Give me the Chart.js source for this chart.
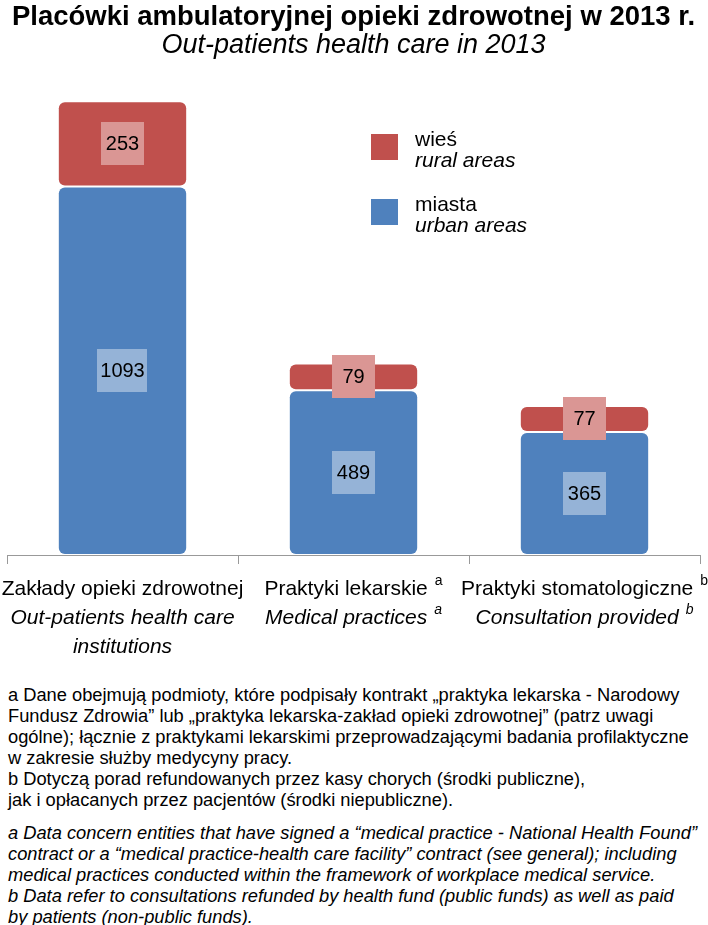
<!DOCTYPE html>
<html>
<head>
<meta charset="utf-8">
<script src="https://cdn.jsdelivr.net/npm/chart.js@4.4.0/dist/chart.umd.min.js"></script>
<style>
    body { margin: 0; background: #fff; font-family: "Liberation Sans", Arial, sans-serif; }
    #wrap { position: relative; width: 708px; height: 925px; overflow: hidden; }
    #chart_box { position: absolute; left: 0; top: 0; width: 708px; height: 680px; }
    .notes { position: absolute; left: 8px; width: 700px; font-size: 18.3px; line-height: 21px; color: #000; white-space: nowrap; }
    #notes_pl { top: 684px; }
    #notes_en { top: 822px; font-style: italic; }
</style>
</head>
<body>
<div id="wrap">
    <div id="chart_box"><canvas id="visualization_div" width="708" height="680"></canvas></div>
    <div class="notes" id="notes_pl">
        a Dane obejmują podmioty, które podpisały kontrakt „praktyka lekarska - Narodowy<br>
        Fundusz Zdrowia” lub „praktyka lekarska-zakład opieki zdrowotnej” (patrz uwagi<br>
        ogólne); łącznie z praktykami lekarskimi przeprowadzającymi badania profilaktyczne<br>
        w zakresie służby medycyny pracy.<br>
        b Dotyczą porad refundowanych przez kasy chorych (środki publiczne),<br>
        jak i opłacanych przez pacjentów (środki niepubliczne).
    </div>
    <div class="notes" id="notes_en">
        a Data concern entities that have signed a “medical practice - National Health Found”<br>
        contract or a “medical practice-health care facility” contract (see general); including<br>
        medical practices conducted within the framework of workplace medical service.<br>
        b Data refer to consultations refunded by health fund (public funds) as well as paid<br>
        by patients (non-public funds).
    </div>
</div>
<script>
const categories_pl = ['Zakłady opieki zdrowotnej', 'Praktyki lekarskie', 'Praktyki stomatologiczne'];
const categories_en = [['Out-patients health care', 'institutions'], ['Medical practices'], ['Consultation provided']];
const category_notes = ['', 'a', 'b'];
const urban_values = [1093, 489, 365];
const rural_values = [253, 79, 77];
const urban_label = ['miasta', 'urban areas'];
const rural_label = ['wieś', 'rural areas'];

const FONT = '"Liberation Sans", Arial, sans-serif';

const value_boxes = {
    id: 'value_boxes',
    afterDatasetsDraw: (chart) => {
        const ctx = chart.ctx;
        ctx.save();
        ctx.font = '20px ' + FONT;
        ctx.textAlign = 'center';
        ctx.textBaseline = 'middle';
        chart.data.datasets.forEach(function (ds, di) {
            chart.getDatasetMeta(di).data.forEach(function (bar, i) {
                const p = bar.getProps(['x', 'y', 'base'], true);
                const cy = (p.y + p.base) / 2;
                const txt = String(ds.data[i]);
                const w = Math.max(43, ctx.measureText(txt).width + 6);
                ctx.fillStyle = ds.box_color;
                ctx.fillRect(Math.round(p.x - w / 2), Math.round(cy - 21.5), Math.round(w), 43);
                ctx.fillStyle = '#000';
                ctx.fillText(txt, p.x, cy + 1);
            });
        });
        ctx.restore();
    }
};

const side_legend = {
    id: 'side_legend',
    afterDraw: (chart) => {
        const ctx = chart.ctx;
        ctx.save();
        const items = chart.data.datasets.slice().reverse();
        items.forEach(function (ds, k) {
            const top = 134 + k * 65;
            ctx.fillStyle = ds.backgroundColor;
            ctx.fillRect(371, top, 27, 26);
            ctx.fillStyle = '#000';
            ctx.textAlign = 'left';
            ctx.textBaseline = 'alphabetic';
            ctx.font = '21px ' + FONT;
            ctx.fillText(ds.legend_lines[0], 415, top + 12);
            ctx.font = 'italic 21px ' + FONT;
            ctx.fillText(ds.legend_lines[1], 415, top + 33);
        });
        ctx.restore();
    }
};

function draw_line(ctx, text, note, x, y, italic) {
    const style = italic ? 'italic ' : '';
    ctx.font = style + '21px ' + FONT;
    const w = ctx.measureText(text).width;
    let sw = 0;
    if (note) {
        ctx.font = style + '14px ' + FONT;
        sw = ctx.measureText(note).width + 7;
    }
    const start = x - (w + sw) / 2;
    ctx.font = style + '21px ' + FONT;
    ctx.fillText(text, start, y);
    if (note) {
        ctx.font = style + '14px ' + FONT;
        ctx.fillText(note, start + w + 7, y - 10);
    }
}

const category_labels = {
    id: 'category_labels',
    afterDraw: (chart) => {
        const ctx = chart.ctx;
        const xs = chart.scales.x;
        const base = chart.chartArea.bottom;
        ctx.save();
        ctx.fillStyle = '#000';
        ctx.textAlign = 'left';
        ctx.textBaseline = 'alphabetic';
        categories_pl.forEach(function (name, i) {
            const x = xs.getPixelForValue(i);
            draw_line(ctx, name, category_notes[i], x, base + 40, false);
            categories_en[i].forEach(function (line, j) {
                const note = j === 0 ? category_notes[i] : '';
                draw_line(ctx, line, note, x, base + 69 + j * 29, true);
            });
        });
        ctx.restore();
    }
};

const config = {
    type: 'bar',
    data: {
        labels: categories_pl,
        datasets: [{
            label: 'miasta',
            data: urban_values,
            backgroundColor: '#4F81BD',
            box_color: '#95B3D7',
            legend_lines: urban_label,
            borderColor: '#ffffff',
            borderWidth: 1,
            borderSkipped: false,
            borderRadius: {topLeft: 7, topRight: 7, bottomLeft: 7, bottomRight: 7}
        }, {
            label: 'wieś',
            data: rural_values,
            backgroundColor: '#C0504D',
            box_color: '#DA9694',
            legend_lines: rural_label,
            borderColor: '#ffffff',
            borderWidth: 1,
            borderSkipped: false,
            borderRadius: {topLeft: 7, topRight: 7, bottomLeft: 7, bottomRight: 7}
        }]
    },
    options: {
        animation: false,
        responsive: false,
        layout: {padding: {left: 7, right: 8, top: 0, bottom: 0}},
        datasets: {bar: {categoryPercentage: 1, barPercentage: 0.56}},
        plugins: {
            legend: {display: false},
            tooltip: {enabled: false},
            title: {
                display: true,
                text: 'Placówki ambulatoryjnej opieki zdrowotnej w 2013 r.',
                color: '#000',
                font: {family: FONT, size: 27.5, weight: 'bold', lineHeight: 1.0},
                padding: {top: 4, bottom: 0}
            },
            subtitle: {
                display: true,
                text: 'Out-patients health care in 2013',
                color: '#000',
                font: {family: FONT, size: 27, style: 'italic', lineHeight: 1.0},
                padding: {top: 0.5, bottom: 24}
            }
        },
        scales: {
            x: {
                stacked: true,
                afterFit: function (scale) { scale.height = 125; },
                ticks: {display: false},
                grid: {display: true, drawOnChartArea: false, drawTicks: true, tickLength: 9, color: '#999999', offset: true},
                border: {display: true, color: '#999999', width: 1}
            },
            y: {
                stacked: true,
                display: false,
                min: 0,
                max: 1400
            }
        }
    },
    plugins: [value_boxes, side_legend, category_labels]
};

const ctx = document.getElementById('visualization_div').getContext('2d');
new Chart(ctx, config);
</script>
</body>
</html>
